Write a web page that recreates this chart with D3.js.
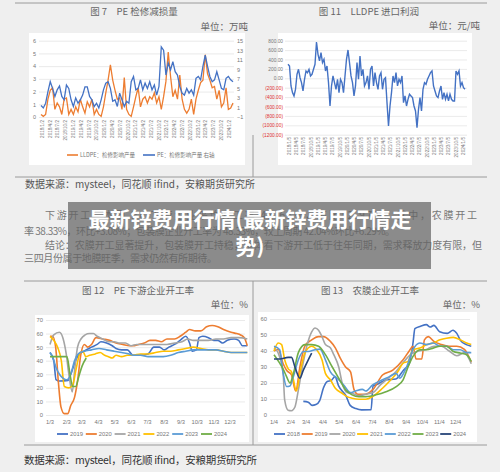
<!DOCTYPE html>
<meta charset="utf-8">
<style>
body { margin: 0; background: #efefef; }
svg { display: block; font-family: "Noto Sans CJK SC", "Noto Sans", sans-serif; }
</style>
<svg width="500" height="472"></svg>
<script src="https://d3js.org/d3.v7.min.js"></script>
<script>

// 图7 PE 检修减损量, weekly: LLDPE (left axis), PE (right axis)
var lldpeLoss = [0.2,0.05,0.2,1.4,2.1,2.3,0.6,1.1,0.8,0.2,1.4,1.5,0.2,0.6,0.2,0.8,0.4,1.4,0.8,0.3,
  1.2,0.8,1.4,0.2,0.6,0.2,0.05,0.8,1.9,2.9,4.1,2.9,2.1,1.4,1.5,0.6,3.1,0.6,0.2,0.05,
  0.8,1.6,2.3,0.8,1.4,1.6,1.1,1.6,1.4,1.9,1.1,1.6,0.6,1.6,2.8,5.1,3.2,1.6,2.1,1.4,
  3.3,1.4,0.6,0.3,0.6,1.4,0.2,1.4,2.1,2.7,2.9,4.9,3.4,2.9,2.3,2.4,1.4,2.1,0.8,1.1,
  2.3,0.6,0.7,1.1];
var peLoss = [1.4,0.9,1.9,4.3,6.4,5.0,3.3,4.7,5.5,3.3,2.6,5.7,5.0,2.6,1.2,3.0,1.9,2.6,3.6,5.3,
  5.3,3.3,2.6,1.2,1.9,0.9,2.6,4.7,6.1,6.4,5.0,2.3,2.6,1.2,4.0,2.6,1.2,2.3,1.9,6.4,
  7.5,4.7,5.0,6.8,4.7,6.1,5.0,6.4,4.7,5.7,3.6,5.4,13.7,13.0,7.8,10.3,8.9,10.6,8.5,7.8,
  5.4,4.0,3.6,5.0,4.0,4.7,3.6,7.1,7.5,6.8,9.6,12.0,9.6,7.5,6.4,6.8,8.5,6.8,5.0,4.7,
  7.1,7.5,6.8,6.4];
var lossLabels = ["2018/1/2","2018/4/2","2018/7/2","2018/10/2","2019/1/2","2019/4/2","2019/7/2",
  "2019/10/2","2020/1/2","2020/4/2","2020/7/2","2020/10/2","2021/1/2","2021/4/2","2021/7/2",
  "2021/10/2","2022/1/2","2022/4/2","2022/7/2","2022/10/2","2023/1/2","2023/4/2","2023/7/2",
  "2023/10/2","2024/1/2"];
var lossLeftTicks = [0,1,2,3,4,5,6];
var lossRightTicks = [-1,1,3,5,7,9,11,13,15];

// 图11 LLDPE 进口利润 (元/吨)
var importProfit = [298,262,-163,-305,-376,-234,85,191,14,-92,-270,-21,156,120,191,50,85,191,298,773,
  511,369,546,333,404,156,262,-92,-589,-163,50,-92,-234,-21,-305,-21,-92,-305,50,404,
  603,333,50,-92,-376,-163,333,-21,475,50,191,-163,-92,50,-234,191,262,-163,120,-92,
  -234,50,120,-234,-21,14,-518,-1014,-589,-305,50,-92,120,-163,-21,-92,50,-518,-376,-589,
  -447,-340,-376,-411,-589,-695,-1050,-660,-411,-695,-234,-92,-128,-21,50,120,156,-163,-270,-376,
  -411,-270,-163,-447,-305,-447,-340,-482,-340,-447,-482,-482,156,85,156,-163,-92,-199,-234];
var profitLabels = ["2018/1/5","2018/4/5","2018/7/5","2018/10/5","2019/1/5","2019/4/5","2019/7/5",
  "2019/10/5","2020/1/5","2020/4/5","2020/7/5","2020/10/5","2021/1/5","2021/4/5","2021/7/5",
  "2021/10/5","2022/1/5","2022/4/5","2022/7/5","2022/10/5","2023/1/5","2023/4/5","2023/7/5",
  "2023/10/5","2024/1/5"];
var profitTicks = [800,600,400,200,0,-200,-400,-600,-800,-1000,-1200];

// month ticks (day offset from the first label)
var monthDays = [0,31,59,90,120,151,181,212,243,273,304,334];
var peMonthLabels = ["1/3","2/3","3/3","4/3","5/3","6/3","7/3","8/3","9/3","10/3","11/3","12/3"];
var nmMonthLabels = ["1/4","2/4","3/4","4/4","5/4","6/4","7/4","8/4","9/4","10/4","11/4","12/4"];

// 图12 PE 下游企业开工率, [week, %]
var pe2019 = [[0,46],[1,40],[1.6,26],[2.5,25],[4.8,25.5],[5.5,30],[6.5,38],[7.5,44],[9,47],[11,50],[12.5,52],
  [13.5,54],[15,53],[16.5,51],[17.5,49],[19,48],[20.5,48],[22,44],[24,44],[26,45],[27.5,50],[29,50],
  [30.3,48],[31.5,50],[33,52],[34.5,55],[36,58],[37,53],[37.7,47],[38.8,48],[39.5,57],[40.5,58],
  [42,57],[43.4,55],[44.5,55],[45.7,53],[47,55],[48.8,56],[50,55],[51,51],[52.3,51]];
var pe2020 = [[0,58],[0.7,58],[1.5,50],[2.2,25],[2.9,6],[3.8,1],[4.7,1],[5.5,7],[6.5,13],[7.3,25],[8.2,45],
  [9.1,52],[10,50],[11,52],[12.2,57],[14,56],[15.8,55],[17.5,53],[19.3,52],[21,51],[22,51],[23.5,52],
  [25,53],[26.5,55],[28,55],[29.5,54],[31,56],[33,56],[34.5,58],[36,61],[37,63],[38.5,62],[40,62],
  [41.5,65],[43,66],[44.5,65],[46,63],[48,61],[49.5,60],[50.5,59],[51.5,57],[52.3,51]];
var pe2021 = [[0,52],[1,59],[2.5,61],[3.5,56],[4.3,45],[5,30],[5.9,17],[6.6,35],[7.3,50],[8.2,56],[9.3,59],
  [10.5,60],[11.5,60],[12.5,58],[14,56],[15.5,54],[17,54],[18.5,53],[20,53],[21.5,51],[23,52],[25,52],
  [27,52],[29,52],[31,52],[33,53],[35,54],[36.5,56],[38,55],[40,55],[42,55],[44,56],[46,56],[48,57],
  [50,57],[52.3,56]];
var pe2022 = [[0,58],[1,55],[2,50],[3,40],[3.8,21],[5,20],[6,22],[7,35],[8,46],[8.7,47],[9.5,43],[10.5,44],
  [12,45],[13.3,46],[14.5,44],[15.5,43],[16.5,42],[17.5,44],[19,43],[20.5,44],[22,44],[24,45],[26,45],
  [28,46],[30,47],[32,47],[34,48],[36,49],[38,50],[40,49],[42,48],[44,48],[46,47],[48,46],[50,46],[52.3,46]];
var pe2023 = [[0,46],[0.8,42],[1.6,35],[2.5,30],[3.5,27],[4.5,26],[5.5,30],[6.5,40],[7.5,45],[9,47],[11,48],
  [13,49],[15,48],[17,47],[19,46],[21,45],[22,44],[24,44],[26,43],[28,43],[30,43],[32,44],[34,46],
  [36,47],[38,48],[40,48],[42,48],[44,48],[46,47],[48,46],[50,46],[52.3,46]];
var pe2024 = [[0,43],[1.5,43],[3,43],[4.5,43],[5.3,30],[6,21],[6.8,21],[7.6,28],[8.5,36],[9.6,42]];

// 图13 农膜企业开工率, [week, %]
var nm2018 = [[7.7,8.5],[9,8],[10,6],[11,6.5],[12,9],[13,17],[14,21],[15,21.5],[16,24],[17,18],[19,11.5],
  [20,6],[21.5,4],[23,3.2],[25.5,3.3],[26,18],[27,19],[29.5,22],[32,22.5],[34,28],[35.5,32],[36.5,45],
  [37,54],[38.5,55.5],[40,56.5],[41,55],[42,56],[43.5,52],[45.5,51],[47,53],[48,51],[49,46.5],
  [50.5,44],[51.8,43]];
var nm2019 = [[0,40],[1.1,41],[2.4,32],[3.3,28],[4.6,25],[5.7,15],[6.8,30],[8.1,43],[9.9,47],[11.7,49],
  [13,49],[14.8,46],[16.1,42],[17.4,35.5],[18.8,30],[20.1,27],[21,16],[22,13],[24,13],[26,16],
  [28.5,25],[31.2,28],[33.9,34.5],[35.5,40],[36.5,43],[37.3,35],[38.8,35],[39.5,47],[40.5,49],
  [42,46],[44,44],[46,43],[48,43],[50,41],[51.8,33]];
var nm2020 = [[0,42],[1.1,38.7],[2.4,26],[2.8,9.4],[3.7,3],[4.6,2.7],[5.5,5],[6.4,15.7],[7.3,28],[8.6,43],
  [9.9,52],[10.8,54.4],[11.7,53],[12.6,49],[13.5,44],[14.8,42],[15.7,37.7],[17,30],[17.9,20],[19.2,14],
  [20.5,13.6],[22.3,12],[24,13],[26,14],[28,19],[30,23],[32,27],[34,33],[36,38],[38,40],[40,41],
  [42,43],[44,43],[46,40],[48,37],[50,39],[51.8,32]];
var nm2021 = [[0,40],[1.1,45],[2,44],[2.8,34.5],[3.7,29],[4.6,27],[5.9,15],[6.8,26],[8.1,38.7],[9.9,43],
  [11.2,40.8],[12.6,34.5],[13.5,26],[14.8,22],[16.1,16.7],[17.9,13.6],[19.2,11.5],[20.5,10.5],
  [22.3,9.8],[24.1,9.8],[25.9,11.5],[28.5,16.7],[30.7,22],[32.5,27],[33.9,32.4],[35.2,33.5],
  [36.5,40.8],[38.3,41.8],[40.1,44],[41.8,45],[43.6,47],[45.3,48],[47.1,48.5],[48.9,47],[50.6,45],
  [51.8,44]];
var nm2022 = [[0,43],[1.5,40.8],[2.4,26],[3.3,17.8],[4.2,18.2],[5.1,24],[6.4,34.5],[7.7,39.7],[9,39.7],
  [10.8,40.8],[12.1,41.2],[13.5,34.5],[14.8,27],[16.6,23],[18.3,18.8],[20.1,14],[21.4,15],[23.2,16],
  [24.1,15],[25.9,18.8],[27.6,21],[30.3,24],[32.1,26],[33,23],[34.8,30],[36.5,40.8],[38.3,45],
  [40.1,44],[41.8,45],[43.6,43],[45.3,43],[47.1,40.8],[48.9,40.8],[50.6,39],[51.8,39]];
var nm2023 = [[0,37.7],[1.5,32.4],[2.4,28.7],[3.3,24],[4.2,20],[5.1,26],[6.4,39],[8.1,44],[9.9,44],
  [11.7,43],[13.5,37.7],[15.3,30],[17,23],[18.8,15.7],[20.5,12.6],[22.3,11.5],[24.1,11.5],[26.8,12.6],
  [29.4,14.6],[32.1,17.8],[33.9,22],[35.2,30],[36.5,36.6],[38.3,40.8],[40.1,40.8],[41.8,41.8],
  [43.6,43],[45.3,43],[47.1,39.7],[48.9,38.7],[50.6,37.7],[51.8,33.5]];
var nm2024 = [[0,35],[1.5,35],[3.7,36],[4.6,36],[5.5,30],[6.8,23],[7.7,28],[9,34.5],[9.9,38.7]];

var peYears = ["2019","2020","2021","2022","2023","2024"];
var nmYears = ["2018","2019","2020","2021","2022","2023","2024"];
var peSeries = [pe2019, pe2020, pe2021, pe2022, pe2023, pe2024];
var nmSeries = [nm2018, nm2019, nm2020, nm2021, nm2022, nm2023, nm2024];
var peColors = ["#4472c4","#ed7d31","#a5a5a5","#ffc000","#5b9bd5","#70ad47"];
var nmColors = ["#4472c4","#ed7d31","#a5a5a5","#ffc000","#5b9bd5","#70ad47","#264478"];

var svg = d3.select("svg");
svg.append("rect").attr("width", 500).attr("height", 472).attr("fill", "#efefef");

// page rules
var rules = [[15,3,487,3],[15,177,487,177],[253,135,253,177],[24,281,487,281],[24,445,487,445],[253,281,253,445]];
svg.selectAll(".rule").data(rules).enter().append("line")
    .attr("x1", function(d) { return d[0]; }).attr("y1", function(d) { return d[1]; })
    .attr("x2", function(d) { return d[2]; }).attr("y2", function(d) { return d[3]; })
    .attr("stroke", "#9a9a9a").attr("stroke-width", 1);

function label(x, y, txt, size, anchor, fill) {
  return svg.append("text").attr("x", x).attr("y", y).text(txt)
      .attr("font-size", size).attr("text-anchor", anchor || "start").attr("fill", fill || "#666");
}

function styleAxis(g) {
  g.select(".domain").remove();
  g.selectAll("line").attr("stroke", "#dcdcdc").attr("stroke-width", 0.6);
  g.selectAll("text").attr("fill", "#777").attr("font-size", 5.5).attr("font-family", "Liberation Sans, sans-serif");
}

function panel(x, y, w, h) {
  svg.append("rect").attr("x", x).attr("y", y).attr("width", w).attr("height", h).attr("fill", "#fff");
}

function rotatedLabels(labels, x0, x1, y) {
  var xs = d3.scalePoint().domain(labels).range([x0, x1]);
  svg.append("g").selectAll("text").data(labels).enter().append("text")
      .attr("transform", function(d) { return "translate(" + (xs(d) + 1.8) + "," + y + ") rotate(-90)"; })
      .attr("text-anchor", "end").attr("font-size", 4.6).attr("fill", "#777")
      .attr("font-family", "Liberation Sans, sans-serif").text(function(d) { return d; });
}

// ---- 图7 ----
label(134, 15, "图 7　PE 检修减损量", 9.5, "middle");
label(248, 29.5, "单位：万吨", 9.5, "end");
panel(29, 33, 216, 132);
var lossY = d3.scaleLinear().domain([0, 6]).range([117, 40.7]);
var lossY2 = d3.scaleLinear().domain([-1, 15]).range([117, 40.7]);
var lossXa = d3.scaleLinear().domain([0, lldpeLoss.length - 1]).range([41, 233]);
var lossXb = d3.scaleLinear().domain([0, peLoss.length - 1]).range([41, 233]);
svg.append("g").attr("transform", "translate(39,0)")
    .call(d3.axisLeft(lossY).tickValues(lossLeftTicks).tickFormat(d3.format("d"))
      .tickSize(-195).tickPadding(3)).call(styleAxis);
svg.append("g").attr("transform", "translate(234,0)")
    .call(d3.axisRight(lossY2).tickValues(lossRightTicks).tickFormat(d3.format("d"))
      .tickSize(0).tickPadding(3)).call(styleAxis);
svg.append("path").datum(lldpeLoss)
    .attr("d", d3.line().x(function(d, i) { return lossXa(i); }).y(function(d) { return lossY(d); }))
    .attr("fill", "none").attr("stroke", "#ed7d31").attr("stroke-width", 1.3);
svg.append("path").datum(peLoss)
    .attr("d", d3.line().x(function(d, i) { return lossXb(i); }).y(function(d) { return lossY2(d); }))
    .attr("fill", "none").attr("stroke", "#4472c4").attr("stroke-width", 1.3);
rotatedLabels(lossLabels, 42, 229, 120);
svg.append("line").attr("x1", 67).attr("x2", 78).attr("y1", 155).attr("y2", 155).attr("stroke", "#ed7d31").attr("stroke-width", 1.6);
label(80, 157, "LLDPE：检修影响产量", 5.5, "start", "#777");
svg.append("line").attr("x1", 143).attr("x2", 155).attr("y1", 155).attr("y2", 155).attr("stroke", "#4472c4").attr("stroke-width", 1.6);
label(157, 157, "PE：检修影响产量 右轴", 5.5, "start", "#777");

// ---- 图11 ----
label(369, 15, "图 11　LLDPE 进口利润", 9.5, "middle");
label(480, 29, "单位：元/吨", 9.5, "end");
panel(278, 33, 194, 132);
var profY = d3.scaleLinear().domain([-1200, 800]).range([134.7, 40.7]);
var profX = d3.scaleLinear().domain([0, importProfit.length - 1]).range([288, 465]);
var profAxis = svg.append("g").attr("transform", "translate(285,0)")
    .call(d3.axisLeft(profY).tickValues(profitTicks).tickSize(-182).tickPadding(2)
      .tickFormat(function(v) { return v < 0 ? "(" + d3.format(".2f")(-v) + ")" : d3.format(".2f")(v); }))
    .call(styleAxis);
profAxis.selectAll("text").attr("font-size", 4.8)
    .attr("fill", function(v) { return v < 0 ? "#e03030" : "#777"; });
svg.append("path").datum(importProfit)
    .attr("d", d3.line().x(function(d, i) { return profX(i); }).y(function(d) { return profY(d); }))
    .attr("fill", "none").attr("stroke", "#4472c4").attr("stroke-width", 1.4);
rotatedLabels(profitLabels, 289, 463, 137);

// ---- text block ----
label(25, 188, "数据来源：mysteel，同花顺 ifind，安粮期货研究所", 10, "start", "#555").attr("textLength", 230);
label(45, 219, "下游开工：本周 PE 下游企业平均开工率 43.63%，环比+2.97%。其中，农膜开工", 10, "start", "#777").attr("textLength", 432);
label(24, 235, "率 38.33%，环比+3.08%；包装膜企业开工率为 48.33%，较上周期 42.04%环比+6.29%。", 10, "start", "#777").attr("textLength", 371);
label(45, 249, "结论：农膜开工显著提升，包装膜开工持稳，整体看下游开工低于往年同期，需求释放力度有限，但", 10, "start", "#777").attr("textLength", 437);
label(24, 262, "三四月份属于地膜旺季，需求仍然有所期待。", 10, "start", "#777").attr("textLength", 193);

// ---- year-over-year charts ----
function yearChart(o) {
  label(o.titleX, 294, o.title, 9.5, "middle");
  label(o.unitX, 308, "单位：%", 9.5, "end");
  panel(o.px, o.py, o.pw, o.ph);
  var x = d3.scaleLinear().domain([0, 334]).range([o.x0, o.x1]);
  var y = d3.scaleLinear().domain([0, o.ymax]).range([415, o.ytop]);
  var ax = svg.append("g").attr("transform", "translate(" + o.gx0 + ",0)")
      .call(d3.axisLeft(y).ticks(o.ymax / 10).tickSize(-(o.gx1 - o.gx0)).tickPadding(3)).call(styleAxis);
  ax.selectAll("text").attr("font-size", 5.8);
  svg.append("g").selectAll("text").data(o.months).enter().append("text")
      .attr("x", function(d, i) { return x(monthDays[i]); }).attr("y", 424)
      .attr("text-anchor", "middle").attr("font-size", 5.8).attr("fill", "#777")
      .attr("font-family", "Liberation Sans, sans-serif").text(function(d) { return d; });
  var line = d3.line().x(function(d) { return x(d[0] * 7); }).y(function(d) { return y(d[1]); })
      .curve(d3.curveMonotoneX);
  svg.append("g").selectAll("path").data(o.series).enter().append("path")
      .attr("d", line).attr("fill", "none").attr("stroke-width", 1.6)
      .attr("stroke", function(d, i) { return o.colors[i]; });
  var lg = svg.append("g").selectAll("g").data(o.years).enter().append("g")
      .attr("transform", function(d, i) { return "translate(" + (o.lx + i * o.lstep) + ",434)"; });
  lg.append("line").attr("x1", 0).attr("x2", 11).attr("stroke-width", 1.8)
      .attr("stroke", function(d, i) { return o.colors[i]; });
  lg.append("text").attr("x", 13).attr("y", 2).attr("font-size", 5.8).attr("fill", "#777")
      .attr("font-family", "Liberation Sans, sans-serif").text(function(d) { return d; });
}

yearChart({title: "图 12　PE 下游企业开工率", titleX: 138, unitX: 248,
  px: 35, py: 315, pw: 214, ph: 127, x0: 50, x1: 230, ymax: 70, ytop: 320, gx0: 46, gx1: 245,
  months: peMonthLabels, series: peSeries, colors: peColors, years: peYears, lx: 57, lstep: 28.8});
yearChart({title: "图 13　农膜企业开工率", titleX: 370, unitX: 480,
  px: 258, py: 312, pw: 219, ph: 130, x0: 274, x1: 455.7, ymax: 60, ytop: 319, gx0: 270, gx1: 470,
  months: nmMonthLabels, series: nmSeries, colors: nmColors, years: nmYears, lx: 274, lstep: 27.7});

label(24, 464, "数据来源：mysteel，同花顺 ifind，安粮期货研究所", 10.5, "start", "#333").attr("textLength", 233);

// ---- overlay headline ----
svg.append("rect").attr("x", 68).attr("y", 202).attr("width", 363).attr("height", 67)
    .attr("fill", "#646464").attr("opacity", 0.72);
label(250, 227, "最新锌费用行情(最新锌费用行情走", 21, "middle", "#fff").attr("font-weight", "bold");
label(250, 254, "势)", 21, "middle", "#fff").attr("font-weight", "bold");

</script>
